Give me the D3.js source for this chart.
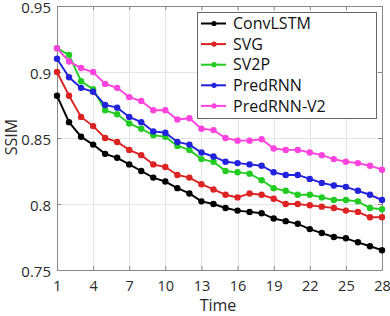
<!DOCTYPE html>
<html>
<head>
<meta charset="utf-8">
<script src="https://cdn.jsdelivr.net/npm/d3@7"></script>
<style>
  html, body { margin: 0; padding: 0; background: #fff; }
  svg { display: block; font-family: "Open Sans", sans-serif; }
</style>
</head>
<body>
<div id="chart"></div>
<script>
// data
const steps = d3.range(1, 29);
const xTicks = [1, 4, 7, 10, 13, 16, 19, 22, 25, 28];
const yTicks = [0.75, 0.8, 0.85, 0.9, 0.95];
const seriesNames = ["ConvLSTM", "SVG", "SV2P", "PredRNN", "PredRNN-V2"];
const seriesColors = ["#000000", "#dd2222", "#22cc22", "#2222dd", "#ff44dd"];

const convLSTM = [0.882, 0.862, 0.851, 0.845, 0.838, 0.835, 0.830, 0.825, 0.820, 0.817, 0.812, 0.808, 0.802, 0.800,
  0.797, 0.795, 0.794, 0.793, 0.789, 0.787, 0.785, 0.781, 0.778, 0.775, 0.774, 0.771, 0.768, 0.765];
const svg_ = [0.900, 0.882, 0.866, 0.859, 0.850, 0.847, 0.841, 0.837, 0.830, 0.828, 0.822, 0.820, 0.815, 0.811,
  0.807, 0.805, 0.808, 0.807, 0.804, 0.800, 0.800, 0.799, 0.798, 0.797, 0.795, 0.794, 0.790, 0.790];
const sv2p = [0.918, 0.913, 0.893, 0.887, 0.871, 0.868, 0.861, 0.857, 0.852, 0.851, 0.844, 0.841, 0.834, 0.832,
  0.825, 0.824, 0.823, 0.818, 0.812, 0.810, 0.807, 0.807, 0.805, 0.803, 0.803, 0.802, 0.797, 0.796];
const predRNN = [0.910, 0.896, 0.888, 0.885, 0.875, 0.873, 0.866, 0.862, 0.855, 0.854, 0.847, 0.845, 0.839, 0.836,
  0.832, 0.831, 0.830, 0.829, 0.824, 0.822, 0.822, 0.819, 0.816, 0.814, 0.813, 0.810, 0.807, 0.803];
const predRNNV2 = [0.918, 0.908, 0.903, 0.900, 0.891, 0.888, 0.881, 0.878, 0.871, 0.871, 0.864, 0.865, 0.857, 0.856,
  0.850, 0.848, 0.848, 0.849, 0.842, 0.841, 0.841, 0.839, 0.837, 0.834, 0.832, 0.831, 0.829, 0.826];

const allValues = [convLSTM, svg_, sv2p, predRNN, predRNNV2];

const config = {
  width: 390,
  height: 316,
  margin: {top: 6, left: 57, right: 8, bottom: 46},
  fontSize: 15,
  textColor: "#2a2a2a",
  frameColor: "#888",
  gridColor: "#e4e4e4"
};

const W = config.width, H = config.height, m = config.margin;
const innerW = W - m.left - m.right, innerH = H - m.top - m.bottom;

const x = d3.scaleLinear([1, 28], [m.left, m.left + innerW]);
const y = d3.scaleLinear([0.75, 0.95], [m.top + innerH, m.top]);

const svg = d3.select("#chart").append("svg")
  .attr("width", W)
  .attr("height", H)
  .attr("viewBox", [0, 0, W, H]);

// grid
svg.append("g")
  .attr("stroke", config.gridColor)
  .attr("stroke-width", 1)
  .call(g => g.selectAll("line.gx").data(xTicks).join("line")
    .attr("x1", d => Math.round(x(d)) + 0.5).attr("x2", d => Math.round(x(d)) + 0.5)
    .attr("y1", m.top).attr("y2", m.top + innerH))
  .call(g => g.selectAll("line.gy").data(yTicks).join("line")
    .attr("y1", d => Math.round(y(d)) + 0.5).attr("y2", d => Math.round(y(d)) + 0.5)
    .attr("x1", m.left).attr("x2", m.left + innerW));

// axes (MATLAB style: ticks inside)
const fmt = d => String(+d.toFixed(2));
svg.append("g")
  .attr("transform", `translate(0,${m.top + innerH})`)
  .call(d3.axisBottom(x).tickValues(xTicks).tickSize(-4).tickPadding(11).tickFormat(d3.format("d")))
  .call(g => g.select(".domain").attr("stroke", config.frameColor))
  .call(g => g.selectAll(".tick line").attr("stroke", config.frameColor))
  .call(g => g.selectAll(".tick text").attr("fill", config.textColor).attr("font-size", 14.5)
    .attr("font-family", "Open Sans, sans-serif"));

svg.append("g")
  .attr("transform", `translate(${m.left},0)`)
  .call(d3.axisLeft(y).tickValues(yTicks).tickSize(-4).tickPadding(6).tickFormat(fmt))
  .call(g => g.select(".domain").attr("stroke", config.frameColor))
  .call(g => g.selectAll(".tick line").attr("stroke", config.frameColor))
  .call(g => g.selectAll(".tick text").attr("fill", config.textColor).attr("font-size", config.fontSize)
    .attr("dy", "0.45em").attr("font-family", "Open Sans, sans-serif"));

svg.append("g")
  .attr("transform", `translate(0,${m.top})`)
  .call(d3.axisTop(x).tickValues(xTicks).tickSize(-4).tickFormat(""))
  .call(g => g.select(".domain").attr("stroke", config.frameColor))
  .call(g => g.selectAll(".tick line").attr("stroke", config.frameColor));

svg.append("g")
  .attr("transform", `translate(${m.left + innerW},0)`)
  .call(d3.axisRight(y).tickValues(yTicks).tickSize(-4).tickFormat(""))
  .call(g => g.select(".domain").attr("stroke", config.frameColor))
  .call(g => g.selectAll(".tick line").attr("stroke", config.frameColor));

// axis titles
svg.append("text")
  .attr("x", 218)
  .attr("y", H - 5)
  .attr("text-anchor", "middle")
  .attr("font-size", 16)
  .attr("fill", config.textColor)
  .text("Time");

svg.append("text")
  .attr("transform", `translate(17,137) rotate(-90)`)
  .attr("text-anchor", "middle")
  .attr("font-size", 16)
  .attr("fill", config.textColor)
  .text("SSIM");

// series
const line = d3.line().x((d, i) => x(steps[i])).y(d => y(d));

allValues.forEach((vals, k) => {
  const g = svg.append("g");
  g.append("path")
    .datum(vals)
    .attr("fill", "none")
    .attr("stroke", seriesColors[k])
    .attr("stroke-width", 1.9)
    .attr("d", line);
  g.selectAll("circle")
    .data(vals)
    .join("circle")
    .attr("cx", (d, i) => x(steps[i]))
    .attr("cy", d => y(d))
    .attr("r", 3.2)
    .attr("fill", seriesColors[k]);
});

// legend
const legend = svg.append("g").attr("transform", "translate(197,12)");
legend.append("rect")
  .attr("x", 0.5).attr("y", 0.5)
  .attr("width", 179).attr("height", 106)
  .attr("fill", "#fff")
  .attr("stroke", "#666")
  .attr("stroke-width", 1);

const item = legend.selectAll("g.item")
  .data(seriesNames)
  .join("g")
  .attr("transform", (d, i) => `translate(0,${11.5 + i * 20.6})`);
item.append("line")
  .attr("x1", 4).attr("x2", 29)
  .attr("stroke", (d, i) => seriesColors[i])
  .attr("stroke-width", 2);
item.append("circle")
  .attr("cx", 17).attr("r", 2.6)
  .attr("fill", (d, i) => seriesColors[i]);
item.append("text")
  .attr("x", 36)
  .attr("dy", "0.36em")
  .attr("font-size", 16)
  .attr("fill", "#111")
  .text(d => d);
</script>
</body>
</html>
